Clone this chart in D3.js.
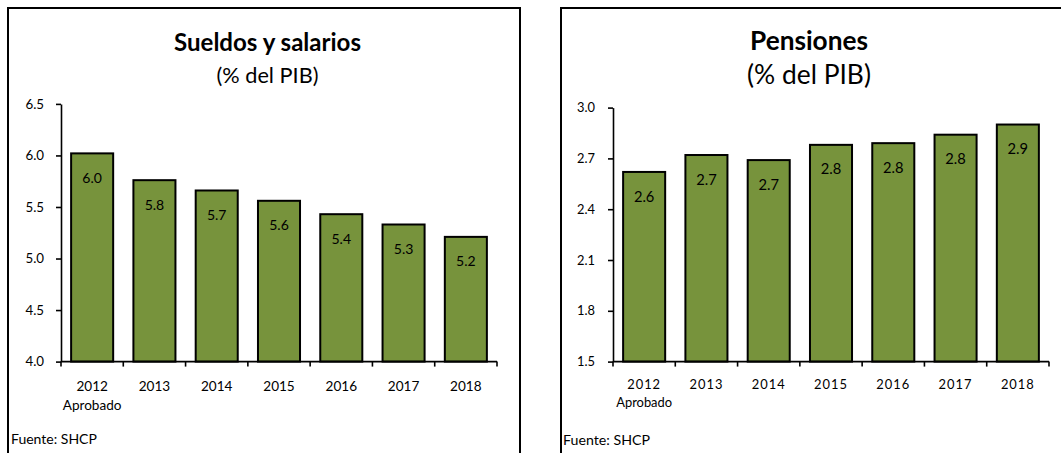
<!DOCTYPE html>
<html>
<head>
<meta charset="utf-8">
<script src="https://cdn.jsdelivr.net/npm/d3@7"></script>
<style>
  html, body { margin: 0; padding: 0; background: #fff; }
  svg { display: block; }
  text { font-family: Lato, "Open Sans", sans-serif; fill: #000; }
</style>
</head>
<body>
<svg id="chart" width="1061" height="453"></svg>
<script>
// ---- data ----
const years = ["2012", "2013", "2014", "2015", "2016", "2017", "2018"];
const yearSub = ["Aprobado", "", "", "", "", "", ""];
const sueldos = [6.02, 5.76, 5.66, 5.56, 5.43, 5.33, 5.21];
const pensiones = [2.62, 2.72, 2.69, 2.78, 2.79, 2.84, 2.90];
const sueldosTicks = [4.0, 4.5, 5.0, 5.5, 6.0, 6.5];
const pensionesTicks = [1.5, 1.8, 2.1, 2.4, 2.7, 3.0];
const titles = ["Sueldos y salarios", "Pensiones"];
const subtitle = "(% del PIB)";
const source = "Fuente: SHCP";

const svg = d3.select("#chart");
const fmt = d3.format(".1f");
const FILL = "#77933C";

// measure helper: font size giving target width
const meas = svg.append("text").attr("x", -1000).attr("y", -1000);
function fitSize(str, weight, target, ls) {
  meas.attr("font-size", 100).attr("font-weight", weight).attr("letter-spacing", ls || 0).text(str);
  const w = meas.node().getComputedTextLength();
  return 100 * target / w;
}

function panel(cfg) {
  const g = svg.append("g");
  // frame
  g.append("path")
    .attr("d", `M${cfg.frameL},460 V${cfg.frameT} H${cfg.frameR} V460`)
    .attr("fill", "none").attr("stroke", "#000").attr("stroke-width", 2);

  // titles
  g.append("text").attr("x", cfg.tx).attr("y", cfg.titleY)
    .attr("text-anchor", "middle").attr("font-weight", 700)
    .attr("font-size", fitSize(cfg.title, 700, cfg.titleW)).text(cfg.title);
  g.append("text").attr("x", cfg.tx).attr("y", cfg.subY)
    .attr("text-anchor", "middle")
    .attr("font-size", fitSize(subtitle, 400, cfg.subW)).text(subtitle);

  const x = d3.scaleBand().domain(years).range([cfg.x0, cfg.x1])
    .paddingInner(0.325).paddingOuter(0.1625);
  const y = d3.scaleLinear().domain(cfg.domain).range([cfg.yBottom, cfg.yTop]);

  // bars
  g.selectAll("rect.bar").data(cfg.values).join("rect")
    .attr("class", "bar")
    .attr("x", (d, i) => x(years[i]))
    .attr("width", x.bandwidth())
    .attr("y", d => y(d))
    .attr("height", d => y(cfg.domain[0]) - y(d))
    .attr("fill", FILL).attr("stroke", "#000").attr("stroke-width", 2);

  const lblSize = fitSize("6.0", 400, cfg.lblW);
  g.selectAll("text.lbl").data(cfg.values).join("text")
    .attr("class", "lbl")
    .attr("x", (d, i) => x(years[i]) + x.bandwidth() / 2)
    .attr("y", d => y(d) + 24.5)
    .attr("dy", "0.35em")
    .attr("text-anchor", "middle")
    .attr("font-size", lblSize)
    .text(d => fmt(d));

  // y axis
  const ySize = fitSize("6.0", 400, cfg.yLblW);
  const ya = g.append("g").attr("transform", `translate(${cfg.x0},0)`)
    .call(d3.axisLeft(y).tickValues(cfg.ticks).tickFormat(fmt).tickSize(5).tickPadding(cfg.yPad).tickSizeOuter(0));
  ya.select(".domain").attr("stroke", "#000").attr("stroke-width", 1.6);
  ya.selectAll(".tick line").attr("stroke", "#000").attr("stroke-width", 1.6);
  ya.selectAll(".tick text").attr("font-size", ySize).attr("font-family", null).attr("fill", "#000");

  // x axis
  const xa = g.append("g").attr("transform", `translate(0,${cfg.yBottom})`);
  xa.append("line").attr("x1", cfg.x0).attr("x2", cfg.x1)
    .attr("stroke", "#000").attr("stroke-width", 1.8);
  const bounds = d3.range(years.length + 1).map(i => cfg.x0 + i * x.step());
  xa.selectAll("line.tk").data(bounds).join("line").attr("class", "tk")
    .attr("x1", d => d).attr("x2", d => d).attr("y1", 0).attr("y2", 5)
    .attr("stroke", "#000").attr("stroke-width", 1.6);
  const xSize = fitSize("2012", 400, cfg.xLblW, cfg.ls);
  xa.selectAll("text.yr").data(years).join("text").attr("class", "yr")
    .attr("x", d => x(d) + x.bandwidth() / 2)
    .attr("y", cfg.yrY - cfg.yBottom)
    .attr("dy", "0.35em")
    .attr("text-anchor", "middle")
    .attr("letter-spacing", cfg.ls || 0)
    .attr("font-size", xSize).text(d => d);
  xa.selectAll("text.sub").data(yearSub).join("text").attr("class", "sub")
    .attr("x", (d, i) => x(years[i]) + x.bandwidth() / 2)
    .attr("y", cfg.subYrY - cfg.yBottom)
    .attr("dy", "0.35em")
    .attr("text-anchor", "middle")
    .attr("font-size", xSize).text(d => d);

  // source
  g.append("text").attr("x", cfg.srcX).attr("y", cfg.srcY).attr("dy", "0.35em")
    .attr("font-size", fitSize(source, 400, cfg.srcW)).text(source);
}

panel({
  frameL: 8, frameR: 520, frameT: 8,
  title: titles[0], tx: 267.5, titleY: 51, titleW: 187, subY: 83, subW: 102,
  x0: 61, x1: 497, yTop: 103.9, yBottom: 361.6, domain: [4.0, 6.5],
  values: sueldos, ticks: sueldosTicks,
  lblW: 19.6, yLblW: 18.6, yPad: 12, xLblW: 31.5, ls: 0,
  yrY: 386, subYrY: 405,
  srcX: 11, srcY: 439.5, srcW: 86
});

panel({
  frameL: 561, frameR: 1070, frameT: 8,
  title: titles[1], tx: 809, titleY: 50, titleW: 118, subY: 84, subW: 124,
  x0: 613, x1: 1049, yTop: 107.6, yBottom: 361.6, domain: [1.5, 3.0],
  values: pensiones, ticks: pensionesTicks,
  lblW: 20.5, yLblW: 18, yPad: 13, xLblW: 30.5, ls: 1,
  yrY: 384.6, subYrY: 402.2,
  srcX: 563, srcY: 440, srcW: 87
});

meas.remove();
</script>
</body>
</html>
